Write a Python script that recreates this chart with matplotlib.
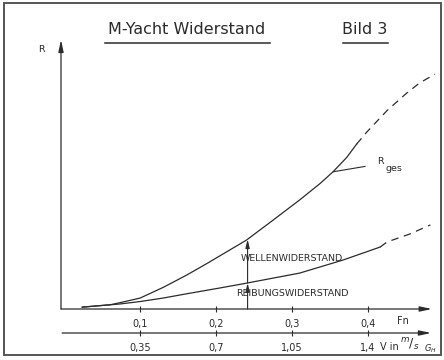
import matplotlib
matplotlib.use("Agg")
import matplotlib.pyplot as plt
import numpy as np
from matplotlib.patches import Rectangle
from matplotlib.lines import Line2D

# Froude number / resistance readings (R in arbitrary units)
fn_ges = [0.024, 0.061, 0.074, 0.100, 0.131, 0.161, 0.188, 0.214, 0.240,
          0.275, 0.310, 0.337, 0.354, 0.372, 0.385]
r_ges = [0.07, 0.16, 0.24, 0.41, 0.82, 1.27, 1.71, 2.15, 2.59,
         3.34, 4.10, 4.72, 5.16, 5.70, 6.20]
fn_ges_ext = [0.385, 0.398, 0.425, 0.451, 0.468, 0.488]
r_ges_ext = [6.20, 6.64, 7.46, 8.12, 8.50, 8.83]

fn_reib = [0.024, 0.074, 0.100, 0.130, 0.161, 0.205, 0.236, 0.310, 0.367, 0.416]
r_reib = [0.07, 0.19, 0.28, 0.41, 0.57, 0.79, 0.95, 1.35, 1.84, 2.33]
fn_reib_ext = [0.416, 0.425, 0.455, 0.482]
r_reib_ext = [2.33, 2.52, 2.82, 3.16]

fn_ticks = [0.1, 0.2, 0.3, 0.4]
fn_labels = ["0,1", "0,2", "0,3", "0,4"]
v_ticks = [0.35, 0.7, 1.05, 1.4]
v_labels = ["0,35", "0,7", "1,05", "1,4"]
fn_mess = 0.2415

W, H = 444, 360
ink = "#2b2b2b"

fig = plt.figure(figsize=(W / 100, H / 100), dpi=100)
fig.patch.set_facecolor("white")

# achsen-rahmen in pixel
x0, x1, yb, yt = 61, 441, 309, 43
ax = fig.add_axes([x0 / W, 1 - yb / H, (x1 - x0) / W, (yb - yt) / H])
ax.set_xlim(-0.004, 0.496)
ax.set_ylim(0, 10)
for s in ax.spines.values():
    s.set_visible(False)
ax.set_yticks([])

# Kurven
ax.plot(fn_ges, r_ges, color=ink, lw=0.9)
ax.plot(fn_ges_ext, r_ges_ext, color=ink, lw=0.9, dashes=(6, 4.5))
ax.plot(fn_reib, r_reib, color=ink, lw=0.9)
ax.plot(fn_reib_ext, r_reib_ext, color=ink, lw=0.9, dashes=(6, 4.5))

# Achsen mit Pfeil
ap = dict(arrowstyle="-|>,head_length=0.7,head_width=0.15", color=ink, lw=0.9, shrinkA=0, shrinkB=0)
ax.annotate("", xy=(0, 1.012), xytext=(0, 0), xycoords="axes fraction", arrowprops=ap, annotation_clip=False)
ax.annotate("", xy=(0.976, 0), xytext=(0, 0), xycoords="axes fraction", arrowprops=ap, annotation_clip=False)
y2 = (yb - 333) / (yb - yt)
ax.annotate("", xy=(0.974, y2), xytext=(0.003, y2), xycoords="axes fraction", arrowprops=ap, annotation_clip=False)

ax.set_xticks(fn_ticks, fn_labels)
ax.tick_params(axis="x", direction="inout", length=5, width=0.8, color=ink, labelsize=7, pad=5, labelcolor=ink)

sec = ax.secondary_xaxis(y2, functions=(lambda f: f * 3.5, lambda v: v / 3.5))
sec.spines["bottom"].set_visible(False)
sec.set_xticks(v_ticks, v_labels)
sec.tick_params(axis="x", direction="inout", length=5, width=0.8, color=ink, labelsize=7, pad=5, labelcolor=ink)

# Messpfeile Reibung / Wellen
r_lo = np.interp(fn_mess, fn_reib, r_reib)
r_hi = np.interp(fn_mess, fn_ges, r_ges)
ap2 = dict(arrowstyle="-|>,head_length=0.5,head_width=0.12", color=ink, lw=0.8, shrinkA=0, shrinkB=0)
ax.annotate("", xy=(fn_mess, r_lo), xytext=(fn_mess, 0), arrowprops=ap2)
ax.annotate("", xy=(fn_mess, r_hi), xytext=(fn_mess, r_lo), arrowprops=ap2)

ax.text(0.3, 1.9, "WELLENWIDERSTAND", fontsize=6.8, ha="center", va="center", color=ink)
ax.text(0.3, 0.6, "REIBUNGSWIDERSTAND", fontsize=6.8, ha="center", va="center", color=ink)

# R_ges Hinweis
ax.plot([0.3543, 0.396], [5.16, 5.36], color=ink, lw=0.8)
ax.text(0.416, 5.55, "R", fontsize=6.8, ha="center", va="center", color=ink)
ax.text(0.4345, 5.30, "ges", fontsize=6.8, ha="center", va="center", color=ink)

# Beschriftungen
fig.text(41 / W, 1 - 50 / H, "R", fontsize=6.8, ha="center", va="center", color=ink)
fig.text(403 / W, 1 - 321 / H, "Fn", fontsize=7, ha="center", va="center", color=ink)
fig.text(389 / W, 1 - 347 / H, "V in", fontsize=7, ha="center", va="center", color=ink)
fig.text(410 / W, 1 - 345 / H, r"$^{m}/_{s}$", fontsize=9, ha="center", va="center", color=ink)
fig.text(430 / W, 1 - 349 / H, r"$G_H$", fontsize=6, ha="center", va="center", color=ink)

fig.text(187 / W, 1 - 30 / H, "M-Yacht Widerstand", fontsize=11.5, ha="center", va="center", color=ink)
fig.text(365 / W, 1 - 30 / H, "Bild 3", fontsize=11.5, ha="center", va="center", color=ink)
for xa, xb in [(105, 270), (343, 388)]:
    fig.add_artist(Line2D([xa / W, xb / W], [1 - 43 / H, 1 - 43 / H], color=ink, lw=1.1))

# Rahmen
fig.add_artist(Rectangle((4 / W, 1 - 355 / H), 437 / W, 352 / H, transform=fig.transFigure,
                         fill=False, edgecolor="#555555", lw=1.4))

fig.savefig("out.png", dpi=100)
